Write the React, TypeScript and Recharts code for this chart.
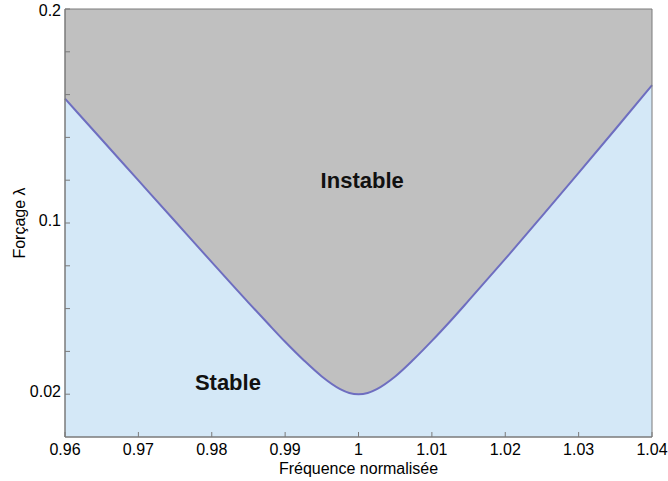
import React from 'react';
import { ComposedChart, Area, XAxis, YAxis, ReferenceArea, ReferenceDot, Label } from 'recharts';

// Tongue boundary
const frequency = [0.96, 0.965, 0.97, 0.975, 0.98, 0.985, 0.9875, 0.99, 0.9925, 0.995, 0.9975, 0.99875, 1, 1.00125, 1.0025, 1.005, 1.0075, 1.01, 1.0125, 1.015, 1.02, 1.025, 1.03, 1.035, 1.04];
const forcing = [0.1581, 0.139, 0.1199, 0.1008, 0.0817, 0.0628, 0.0536, 0.0445, 0.036, 0.0283, 0.0224, 0.0206, 0.02, 0.0206, 0.0224, 0.0283, 0.0362, 0.0449, 0.0541, 0.0637, 0.0832, 0.1032, 0.1234, 0.1438, 0.1644];

const xTicks = [0.96, 0.97, 0.98, 0.99, 1, 1.01, 1.02, 1.03, 1.04];
const yTicks = [0.02, 0.04, 0.06, 0.08, 0.1, 0.12, 0.14, 0.16, 0.18, 0.2];
const yLabelled = [0.02, 0.1, 0.2];

const data = frequency.map((f, i) => ({ f, lambda: forcing[i] }));

const FONT = '"Liberation Sans", Arial, Helvetica, sans-serif';
const AXIS = '#7a7a7a';

const YTick = (props: any) => {
  const { x, y, payload } = props;
  const v = payload.value;
  return (
    <g>
      <line x1={x} x2={x + 5} y1={y} y2={y} stroke={AXIS} />
      {yLabelled.includes(v) && (
        <text x={x - 4} y={Math.max(y - 3, 10)} textAnchor="end" dominantBaseline="central" fontSize={16} fontFamily={FONT} fill="#000">
          {String(v)}
        </text>
      )}
    </g>
  );
};

const XTick = (props: any) => {
  const { x, y, payload } = props;
  return (
    <g>
      <line x1={x} x2={x} y1={y} y2={y - 5} stroke={AXIS} />
      <text x={x} y={y + 18} textAnchor="middle" fontSize={16} fontFamily={FONT} fill="#000">
        {String(payload.value)}
      </text>
    </g>
  );
};

export default function App() {
  return (
    <div style={{ position: 'absolute', left: 0, top: 0, background: '#fff' }}>
      <ComposedChart width={668} height={481} data={data} margin={{ top: 9, right: 16, bottom: 0, left: 0 }}>
        <ReferenceArea x1={0.96} x2={1.04} y1={0} y2={0.2} fill="#c0c0c0" fillOpacity={1} stroke="none" />
        <XAxis
          type="number"
          dataKey="f"
          domain={[0.96, 1.04]}
          ticks={xTicks}
          tick={<XTick />}
          tickLine={false}
          tickSize={0}
          tickMargin={0}
          axisLine={{ stroke: AXIS }}
          height={44}
          interval={0}
        >
          <Label
            content={({ viewBox }: any) => (
              <text x={viewBox.x + viewBox.width / 2} y={viewBox.y + 37} textAnchor="middle" fontSize={16} fontFamily={FONT} fill="#000">
                Fréquence normalisée
              </text>
            )}
          />
        </XAxis>
        <YAxis
          type="number"
          domain={[0, 0.2]}
          ticks={yTicks}
          tick={<YTick />}
          tickLine={false}
          tickSize={0}
          tickMargin={0}
          axisLine={{ stroke: AXIS }}
          width={65}
          interval={0}
        >
          <Label
            content={({ viewBox }: any) => (
              <text
                x={19}
                y={viewBox.y + viewBox.height / 2}
                textAnchor="middle"
                dominantBaseline="central"
                fontSize={16}
                fontFamily={FONT}
                fill="#000"
                transform={`rotate(-90 19 ${viewBox.y + viewBox.height / 2})`}
              >
                Forçage λ
              </text>
            )}
          />
        </YAxis>
        <Area
          type="monotone"
          dataKey="lambda"
          baseValue={0}
          fill="#d4e8f7"
          fillOpacity={1}
          stroke="#6e6ec0"
          strokeWidth={2}
          dot={false}
          activeDot={false}
          isAnimationActive={false}
        />
        <ReferenceArea x1={0.96} x2={1.04} y1={0} y2={0.2} fill="none" stroke={AXIS} />
        <ReferenceDot x={1.0005} y={0.1201} r={0} stroke="none" fill="none">
          <Label value="Instable" position="center" fontSize={22} fontWeight="bold" fontFamily={FONT} fill="#111" />
        </ReferenceDot>
        <ReferenceDot x={0.9822} y={0.0254} r={0} stroke="none" fill="none">
          <Label value="Stable" position="center" fontSize={22} fontWeight="bold" fontFamily={FONT} fill="#111" />
        </ReferenceDot>
      </ComposedChart>
    </div>
  );
}
